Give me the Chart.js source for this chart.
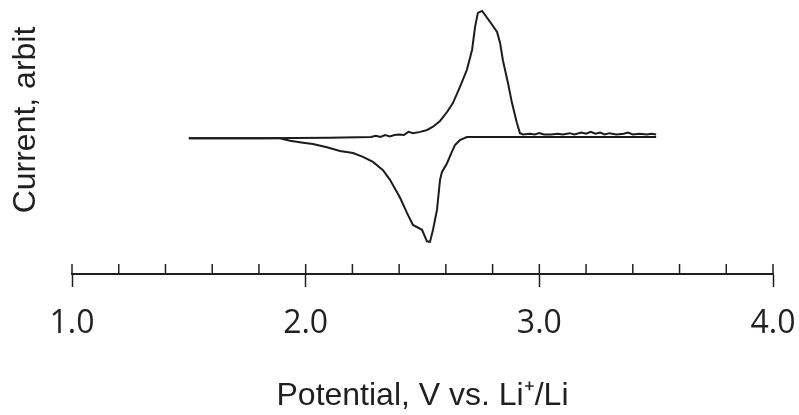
<!DOCTYPE html>
<html>
<head>
<meta charset="utf-8">
<script src="https://cdn.jsdelivr.net/npm/chart.js@4.4.0/dist/chart.umd.min.js"></script>
<style>
  body { margin: 0; background: #fff; }
  #contenedor { width: 799px; height: 415px; }
</style>
</head>
<body>
<div id="contenedor"><canvas id="cvChart"></canvas></div>
<script>
// Barrido de ida (oxidación): potencial en V, corriente en unidades arbitrarias
const potencialIda = [1.50, 1.80, 2.10, 2.28, 2.30, 2.32, 2.34, 2.36, 2.38, 2.40, 2.42, 2.44, 2.46, 2.49, 2.52, 2.545,
  2.575, 2.605, 2.63, 2.66, 2.69, 2.712, 2.725, 2.737, 2.755, 2.767, 2.789, 2.819, 2.832, 2.844, 2.866, 2.883,
  2.904, 2.917, 2.93, 2.96, 2.98, 3.00, 3.02, 3.05, 3.08, 3.10, 3.13, 3.15, 3.18, 3.20, 3.22, 3.24, 3.26, 3.28,
  3.30, 3.33, 3.36, 3.38, 3.40, 3.43, 3.46, 3.48, 3.50];
const corrienteIda = [-0.02, -0.02, -0.01, 0.0, 0.02, 0.0, 0.03, 0.01, 0.03, 0.04, 0.03, 0.08, 0.06, 0.08, 0.11, 0.16,
  0.25, 0.39, 0.53, 0.78, 1.05, 1.36, 1.72, 1.94, 1.97, 1.91, 1.80, 1.64, 1.47, 1.20, 0.84, 0.53,
  0.22, 0.06, 0.04, 0.05, 0.04, 0.06, 0.04, 0.04, 0.05, 0.04, 0.06, 0.04, 0.07, 0.05, 0.08, 0.05, 0.07, 0.04,
  0.06, 0.04, 0.05, 0.07, 0.04, 0.05, 0.04, 0.05, 0.04];

// Barrido de vuelta (reducción)
const potencialVuelta = [3.50, 3.20, 2.90, 2.69, 2.66, 2.639, 2.626, 2.605, 2.583, 2.575, 2.562, 2.545, 2.532, 2.519,
  2.498, 2.459, 2.434, 2.404, 2.361, 2.331, 2.288, 2.245, 2.203, 2.147, 2.091, 2.031, 1.989, 1.933, 1.890, 1.50];
const corrienteVuelta = [0.0, 0.0, 0.0, 0.0, -0.05, -0.125, -0.23, -0.41, -0.55, -0.67, -1.14, -1.45, -1.64, -1.63,
  -1.45, -1.375, -1.19, -0.95, -0.67, -0.52, -0.39, -0.31, -0.25, -0.22, -0.16, -0.11, -0.09, -0.06, -0.02, -0.02];

// Marcas del eje x
const marcasMayores = [1.0, 2.0, 3.0, 4.0];
const pasoMenor = 0.2;

const colorTexto = '#231f20';

function aPuntos(xs, ys) {
  return xs.map((x, i) => ({ x: x, y: ys[i] }));
}

function esMayor(valor) {
  return marcasMayores.some(m => Math.abs(m - valor) < 1e-6);
}

// Marcas hacia arriba del eje y título vertical
const ejesExtra = {
  id: 'ejesExtra',
  afterDraw(chart) {
    const ctx = chart.ctx;
    const escala = chart.scales.x;
    const abajo = chart.chartArea.bottom;
    ctx.save();
    ctx.strokeStyle = colorTexto;
    ctx.lineWidth = 1.5;
    escala.ticks.forEach(t => {
      const px = escala.getPixelForValue(t.value);
      ctx.beginPath();
      ctx.moveTo(px, abajo);
      ctx.lineTo(px, abajo - 10);
      ctx.stroke();
    });
    ctx.translate(35, 120);
    ctx.rotate(-Math.PI / 2);
    ctx.font = '32px "Liberation Sans", Arial, sans-serif';
    ctx.fillStyle = colorTexto;
    ctx.textAlign = 'center';
    ctx.textBaseline = 'alphabetic';
    ctx.fillText('Current, arbit', 0, 0);
    ctx.restore();
  }
};

const ctx = document.getElementById('cvChart').getContext('2d');
const cvChart = new Chart(ctx, {
  type: 'line',
  data: {
    datasets: [{
      label: 'Ida',
      data: aPuntos(potencialIda, corrienteIda),
      borderColor: '#1c1c1c',
      borderWidth: 2,
      pointRadius: 0,
      tension: 0
    }, {
      label: 'Vuelta',
      data: aPuntos(potencialVuelta, corrienteVuelta),
      borderColor: '#1c1c1c',
      borderWidth: 2,
      pointRadius: 0,
      tension: 0
    }]
  },
  options: {
    responsive: true,
    maintainAspectRatio: false,
    animation: false,
    layout: { padding: { left: 72, right: 26, top: 0, bottom: 0 } },
    plugins: { legend: { display: false }, tooltip: { enabled: false } },
    scales: {
      x: {
        type: 'linear',
        min: 1,
        max: 4,
        border: { display: true, color: colorTexto, width: 2 },
        grid: {
          drawOnChartArea: false,
          drawTicks: true,
          tickLength: 13,
          tickWidth: 1.5,
          tickColor: c => (c.tick && esMayor(c.tick.value)) ? colorTexto : 'rgba(0,0,0,0)'
        },
        ticks: {
          stepSize: pasoMenor,
          autoSkip: false,
          maxRotation: 0,
          minRotation: 0,
          padding: 2,
          color: colorTexto,
          // la altura de línea grande baja las etiquetas sin ensanchar el margen derecho
          font: { family: '"Open Sans", sans-serif', size: 32, lineHeight: 2.16 },
          callback: valor => esMayor(valor) ? valor.toFixed(1) : ''
        },
        title: {
          display: true,
          text: 'Potential, V vs. Li\u207A/Li',
          color: colorTexto,
          font: { family: '"Liberation Sans", Arial, sans-serif', size: 32 },
          padding: { top: 16.5, bottom: 0 }
        }
      },
      y: {
        display: false,
        min: -2.1406,
        max: 2.1406
      }
    }
  },
  plugins: [ejesExtra]
});
</script>
</body>
</html>
